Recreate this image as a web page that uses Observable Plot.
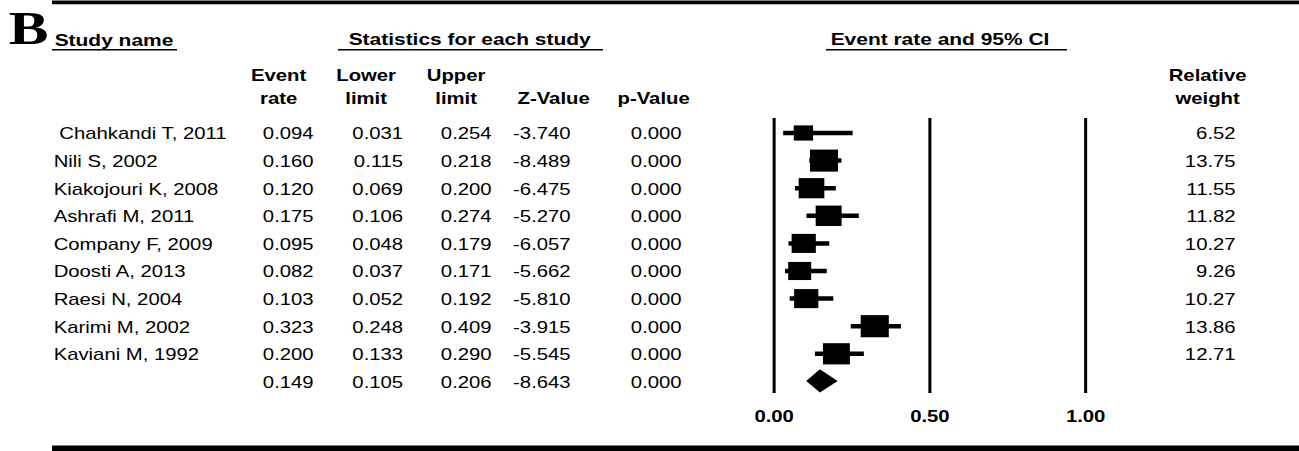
<!DOCTYPE html>
<html><head><meta charset="utf-8">
<script src="https://cdn.jsdelivr.net/npm/d3@7"></script>
<script src="https://cdn.jsdelivr.net/npm/@observablehq/plot@0.6"></script>
<style>
html,body{margin:0;padding:0;background:#fff;}
#chart svg{display:block;width:1299px !important;height:451px !important;max-width:none !important;}
#chart svg text{white-space:pre;}
</style></head><body><div id="chart"></div>
<script>
// ---- data ----
const studies = [" Chahkandi T, 2011","Nili S, 2002","Kiakojouri K, 2008","Ashrafi M, 2011","Company F, 2009","Doosti A, 2013","Raesi N, 2004","Karimi M, 2002","Kaviani M, 1992"];
const eventRate  = [0.094,0.160,0.120,0.175,0.095,0.082,0.103,0.323,0.200];
const lowerLimit = [0.031,0.115,0.069,0.106,0.048,0.037,0.052,0.248,0.133];
const upperLimit = [0.254,0.218,0.200,0.274,0.179,0.171,0.192,0.409,0.290];
const zValue     = [-3.740,-8.489,-6.475,-5.270,-6.057,-5.662,-5.810,-3.915,-5.545];
const pValue     = [0.000,0.000,0.000,0.000,0.000,0.000,0.000,0.000,0.000];
const relWeight  = [6.52,13.75,11.55,11.82,10.27,9.26,10.27,13.86,12.71];
const summaryRate = 0.149, summaryLower = 0.105, summaryUpper = 0.206, summaryZ = -8.643, summaryP = 0.000;
const xTicks = [0, 0.5, 1];

// ---- layout helpers ----
const W = 1023, H = 451, S = 1299 / W;   // drawn narrow, shown stretched like the reference
const X = p => p / S;                    // picture px -> internal px
const x0 = 773.5, xUnit = 311.5;         // picture px of 0 and per unit
const y0 = 132.5, rowH = 27.6;
const xInv = p => (p - x0) / xUnit;
const yInv = p => (p - y0) / rowH;
const font = "Liberation Sans, Arial, sans-serif";
const f3 = v => v.toFixed(3);

const rows = studies.map((name, i) => ({i, name, rate: eventRate[i], lower: lowerLimit[i], upper: upperLimit[i], z: zValue[i], p: pValue[i], w: relWeight[i]}));
const allRows = rows.concat([{i: rows.length, name: "", rate: summaryRate, lower: summaryLower, upper: summaryUpper, z: summaryZ, p: summaryP}]);
const sumRow = rows.length;
const diamond = [
  {y: sumRow - 0.42, x1: summaryRate, x2: summaryRate},
  {y: sumRow, x1: summaryLower, x2: summaryUpper},
  {y: sumRow + 0.42, x1: summaryRate, x2: summaryRate}
];

const txt = (data, opts) => Plot.text(data, Object.assign({lineAnchor: "bottom", fontSize: 16, fontFamily: font, fill: "#000"}, opts));
const col = (key, right, fmt) => txt(allRows, {frameAnchor: "left", y: "i", dx: X(right), dy: 6.3, textAnchor: "end", text: d => fmt(d[key])});
const head = (label, cx, base, bold = true, size = 16) => txt([label], {frameAnchor: "top-left", dx: X(cx), dy: base, textAnchor: "middle", text: d => d, fontWeight: bold ? "bold" : "normal", fontSize: size, lineHeight: 1.41});
const headL = (label, left, base, size) => txt([label], {frameAnchor: "top-left", dx: X(left), dy: base, textAnchor: "start", text: d => d, fontWeight: "bold", fontSize: size});

const chart = Plot.plot({
  width: W, height: H,
  marginTop: 0, marginRight: 0, marginLeft: 0, marginBottom: 46,
  style: {fontFamily: font, background: "#fff"},
  x: {domain: [0, 1], range: [X(x0), X(x0 + xUnit)], axis: null},
  y: {domain: [0, sumRow], range: [y0, y0 + sumRow * rowH], axis: null},
  r: {type: "sqrt", domain: [0, 14], range: [0, 12.56]},
  marks: [
    // frame rules and header underlines
    Plot.ruleY([yInv(1.9)], {x1: xInv(52), x2: xInv(1299), strokeWidth: 3.8, stroke: "#000"}),
    Plot.ruleY([yInv(448)], {x1: xInv(52), x2: xInv(1299), strokeWidth: 6, stroke: "#000"}),
    Plot.ruleY([[52, 177], [338, 603], [826, 1067]], {y: () => yInv(49.3), x1: d => xInv(d[0]), x2: d => xInv(d[1]), strokeWidth: 1.5, stroke: "#000"}),
    // reference lines
    Plot.ruleX(xTicks, {x: d => d, y1: yInv(118), y2: yInv(393), strokeWidth: 2.4, stroke: "#000"}),
    // confidence intervals and study weights
    Plot.ruleY(rows, {y: "i", x1: "lower", x2: "upper", strokeWidth: 4.5, stroke: "#000"}),
    Plot.dot(rows, {x: "rate", y: "i", r: "w", symbol: "square", fill: "#000", stroke: "none"}),
    Plot.areaX(diamond, {y: "y", x1: "x1", x2: "x2", fill: "#000", curve: "linear"}),
    // axis
    Plot.axisX(xTicks, {anchor: "bottom", tickSize: 0, tickPadding: 5, tickFormat: d => d.toFixed(2), fontSize: 16, fontWeight: "bold", fontFamily: font, fill: "#000"}),
    // table
    txt(rows, {frameAnchor: "left", y: "i", dx: X(53), dy: 6.3, textAnchor: "start", text: "name"}),
    col("rate", 313, f3),
    col("lower", 402.5, f3),
    col("upper", 491, f3),
    col("z", 570, f3),
    col("p", 681, f3),
    txt(rows, {frameAnchor: "left", y: "i", dx: X(1235), dy: 6.3, textAnchor: "end", text: d => d.w.toFixed(2)}),
    // headers
    txt(["B"], {frameAnchor: "top-left", dx: X(8), dy: 43.5, textAnchor: "start", text: d => d, fontFamily: "Liberation Serif, Times New Roman, serif", fontWeight: "bold", fontSize: 47}),
    headL("Study name", 54, 45, 16.5),
    headL("Statistics for each study", 348, 44.5, 16.5),
    headL("Event rate and 95% CI", 830, 44.5, 16.5),
    head("Event\nrate", 278, 103.3),
    head("Lower\nlimit", 365.5, 103.3),
    head("Upper\nlimit", 455.5, 103.3),
    head("Z-Value", 553, 103.3),
    head("p-Value", 653, 103.3),
    head("Relative\nweight", 1207, 103.3)
  ]
});
chart.setAttribute("preserveAspectRatio", "none");
chart.setAttribute("width", 1299);
chart.setAttribute("height", 451);
document.getElementById("chart").appendChild(chart);
</script>
</body></html>
